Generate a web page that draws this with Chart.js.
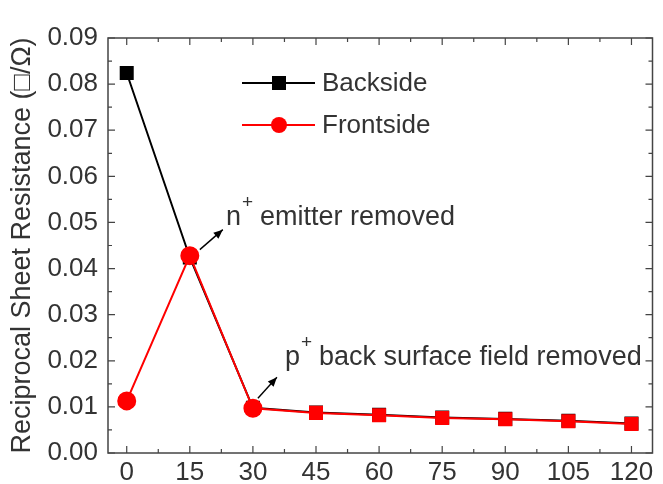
<!DOCTYPE html>
<html>
<head>
<meta charset="utf-8">
<script src="https://cdn.jsdelivr.net/npm/chart.js@4"></script>
<style>
  html, body { margin: 0; padding: 0; background: #fff; }
  #wrap { width: 663px; height: 484px; }
</style>
</head>
<body>
<div id="wrap"><canvas id="myChart" width="663" height="484"></canvas></div>
<script>
// etch time (s) along the x-axis
var times = [0, 15, 30, 45, 60, 75, 90, 105, 120];
// reciprocal sheet resistance
var backside = [0.0824, 0.0424, 0.0098, 0.0088, 0.0083, 0.0077, 0.0074, 0.0070, 0.0064];
var frontside = [0.0113, 0.0428, 0.0097, 0.0087, 0.0082, 0.0076, 0.0073, 0.0069, 0.0063];
var frontStyles = ['circle', 'circle', 'circle', 'rect', 'rect', 'rect', 'rect', 'rect', 'rect'];
var xTicks = [0, 15, 30, 45, 60, 75, 90, 105, 120];
var yTicks = [0, 0.01, 0.02, 0.03, 0.04, 0.05, 0.06, 0.07, 0.08, 0.09];

var FONT = '"Liberation Sans", Arial, sans-serif';
var TXT = '#333';

function pts(ys) {
  return times.map(function (t, i) { return { x: t, y: ys[i] }; });
}

// frame, inward ticks (major + minor) on all four sides
var frame = {
  id: 'frame',
  afterDraw: function (chart) {
    var c = chart.ctx, a = chart.chartArea;
    var xs = chart.scales.x, ys = chart.scales.y;
    c.save();
    c.strokeStyle = '#444';
    c.lineWidth = 1.5;
    c.strokeRect(a.left, a.top, a.right - a.left, a.bottom - a.top);
    c.lineWidth = 1.2;
    c.beginPath();
    for (var v = 0; v <= 120; v += 7.5) {
      var px = xs.getPixelForValue(v);
      var len = (v % 15 === 0) ? 7 : 4;
      c.moveTo(px, a.bottom); c.lineTo(px, a.bottom - len);
      c.moveTo(px, a.top); c.lineTo(px, a.top + len);
    }
    for (var k = 0; k <= 18; k++) {
      var py = ys.getPixelForValue(k * 0.005);
      var l2 = (k % 2 === 0) ? 7 : 4;
      c.moveTo(a.left, py); c.lineTo(a.left + l2, py);
      c.moveTo(a.right, py); c.lineTo(a.right - l2, py);
    }
    c.stroke();
    c.restore();
  }
};

// legend inside the plot + arrow annotations
var notes = {
  id: 'notes',
  afterDraw: function (chart) {
    var c = chart.ctx;
    var xs = chart.scales.x, ys = chart.scales.y;
    c.save();
    var rows = [
      { y: 83, col: '#000', label: 'Backside', shape: 'rect' },
      { y: 125, col: '#ff0000', label: 'Frontside', shape: 'circle' }
    ];
    rows.forEach(function (r) {
      c.strokeStyle = r.col; c.lineWidth = 2;
      c.beginPath(); c.moveTo(242, r.y); c.lineTo(315, r.y); c.stroke();
      c.fillStyle = r.col;
      if (r.shape === 'rect') c.fillRect(272, r.y - 7, 14, 14);
      else { c.beginPath(); c.arc(279, r.y, 8, 0, Math.PI * 2); c.fill(); }
      c.fillStyle = TXT;
      c.font = '26px ' + FONT;
      c.textBaseline = 'middle';
      c.fillText(r.label, 322, r.y + 1);
    });

    function arrow(x0, y0, x1, y1) {
      c.strokeStyle = '#000'; c.fillStyle = '#000'; c.lineWidth = 1.4;
      c.beginPath(); c.moveTo(x0, y0); c.lineTo(x1, y1); c.stroke();
      var ang = Math.atan2(y1 - y0, x1 - x0);
      c.beginPath();
      c.moveTo(x1, y1);
      c.lineTo(x1 - 10 * Math.cos(ang - 0.4), y1 - 10 * Math.sin(ang - 0.4));
      c.lineTo(x1 - 10 * Math.cos(ang + 0.4), y1 - 10 * Math.sin(ang + 0.4));
      c.closePath(); c.fill();
    }
    function label(x, y, base, rest) {
      c.fillStyle = TXT;
      c.textBaseline = 'alphabetic';
      c.font = '27px ' + FONT;
      c.fillText(base, x, y);
      var w = c.measureText(base).width;
      c.font = '19px ' + FONT;
      c.fillText('+', x + w + 1, y - 17);
      c.font = '27px ' + FONT;
      c.fillText(rest, x + w + 19, y);
    }
    var p1x = xs.getPixelForValue(15), p1y = ys.getPixelForValue(frontside[1]);
    arrow(p1x + 10, p1y - 6, p1x + 33, p1y - 26);
    label(226, 225, 'n', 'emitter removed');
    var p2x = xs.getPixelForValue(30), p2y = ys.getPixelForValue(frontside[2]);
    arrow(p2x + 5, p2y - 10, p2x + 24, p2y - 31);
    label(285, 365, 'p', 'back surface field removed');
    c.restore();
  }
};

var ctx = document.getElementById('myChart');
var myChart = new Chart(ctx, {
  type: 'line',
  data: {
    datasets: [
      {
        data: pts(backside),
        label: 'Backside',
        order: 1,
        borderColor: '#000',
        backgroundColor: '#000',
        borderWidth: 2,
        pointStyle: 'rect',
        pointRadius: 8.5,
        fill: false
      },
      {
        data: pts(frontside),
        label: 'Frontside',
        order: 0,
        borderColor: '#ff0000',
        backgroundColor: '#ff0000',
        borderWidth: 2,
        pointStyle: frontStyles,
        pointRadius: 8.5,
        fill: false
      }
    ]
  },
  options: {
    responsive: false,
    animation: false,
    layout: { padding: { top: 38, right: 3, bottom: 0, left: 0 } },
    plugins: { legend: { display: false }, tooltip: { enabled: false } },
    scales: {
      x: {
        type: 'linear',
        min: -4.45,
        max: 125,
        afterBuildTicks: function (axis) {
          axis.ticks = xTicks.map(function (v) { return { value: v }; });
        },
        afterFit: function (axis) { axis.height = 31; },
        grid: { display: false, drawTicks: false },
        border: { display: false },
        ticks: { color: TXT, font: { family: FONT, size: 26 }, padding: 4, maxRotation: 0 }
      },
      y: {
        min: 0,
        max: 0.09,
        afterBuildTicks: function (axis) {
          axis.ticks = yTicks.map(function (v) { return { value: v }; });
        },
        afterFit: function (axis) { axis.width = 108; },
        grid: { display: false, drawTicks: false },
        border: { display: false },
        ticks: {
          color: TXT, font: { family: FONT, size: 26 }, padding: 10,
          callback: function (v) { return v.toFixed(2); }
        },
        title: {
          display: true,
          text: 'Reciprocal Sheet Resistance (\u25A1/\u03A9)',
          color: TXT,
          font: { family: FONT, size: 27 },
          padding: { top: 6, bottom: 0 }
        }
      }
    }
  },
  plugins: [frame, notes]
});
</script>
</body>
</html>
